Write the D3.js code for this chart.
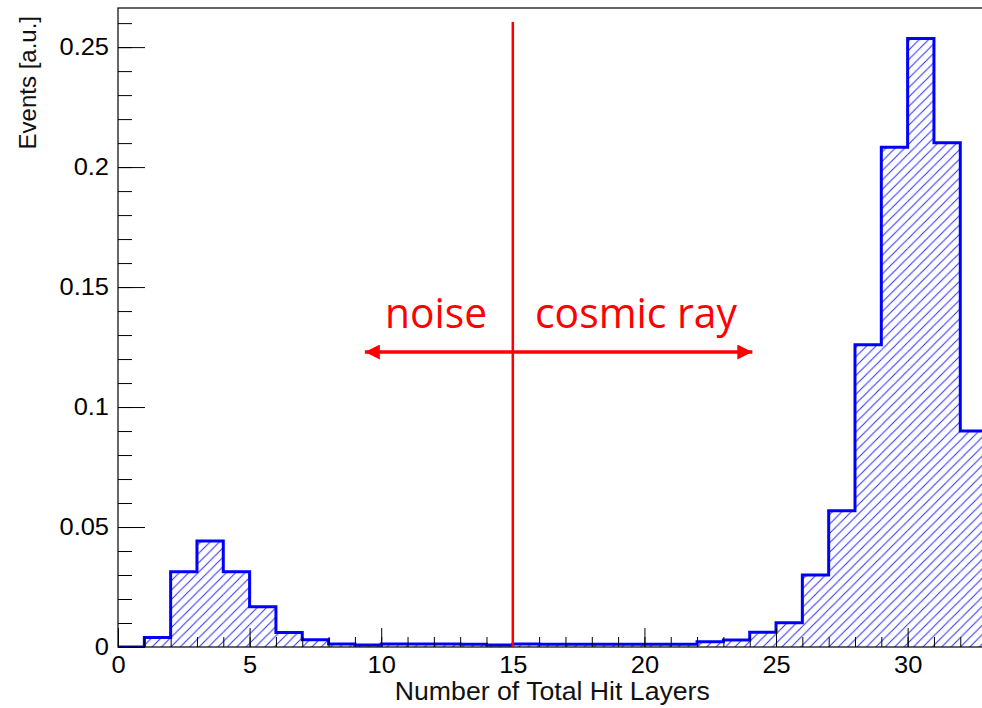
<!DOCTYPE html>
<html>
<head>
<meta charset="utf-8">
<script src="https://cdn.jsdelivr.net/npm/d3@7"></script>
<style>
  html, body { margin: 0; padding: 0; background: #fff; }
  svg { display: block; }
</style>
</head>
<body>
<svg id="chart"></svg>
<script>
// histogram bins: lower edges and contents
const binEdges = [0, 1, 2, 3, 4, 5, 6, 7, 8, 9, 10, 11, 12, 13, 14, 15, 16,
  17, 18, 19, 20, 21, 22, 23, 24, 25, 26, 27, 28, 29, 30, 31, 32, 33];
const binValues = [0, 0.004, 0.0314, 0.0442, 0.0314, 0.0168, 0.006, 0.003,
  0.0013, 0.0008, 0.0012, 0.0012, 0.0012, 0.0011, 0.0008, 0.0012, 0.0011,
  0.0011, 0.0011, 0.0011, 0.0011, 0.0011, 0.0022, 0.0029, 0.0061, 0.0101,
  0.030, 0.0568, 0.126, 0.2083, 0.2536, 0.2101, 0.09];
const xTicks = [0, 5, 10, 15, 20, 25, 30];
const yTicks = [0, 0.05, 0.1, 0.15, 0.2, 0.25];
const cutValue = 15;          // red separating line
const arrowRange = [9.38, 24.1];
const regionLabels = ["noise", "cosmic ray"];

const width = 982;
const height = 708;
const margin = {left: 118, top: 8, bottom: 61};
const plotRight = 986.6;
const stretch = 1.06; // the reference text is a bit wider than plain Helvetica

const svg = d3.select('#chart')
    .attr('width', width)
    .attr('height', height);

const x = d3.scaleLinear().domain([0, 33]).range([margin.left, plotRight]);
const y = d3.scaleLinear().domain([0, 0.2663]).range([height - margin.bottom, margin.top]);

// hatch pattern
const defs = svg.append('defs');
const hw = 9.4;
const pat = defs.append('pattern')
    .attr('id', 'hatch')
    .attr('patternUnits', 'userSpaceOnUse')
    .attr('width', hw)
    .attr('height', hw);
pat.append('path')
    .attr('d', `M0,${hw} L${hw},0 M${-hw / 2},${hw / 2} L${hw / 2},${-hw / 2} M${hw / 2},${hw * 1.5} L${hw * 1.5},${hw / 2}`)
    .attr('stroke', '#2f2fff')
    .attr('stroke-width', 1);

defs.append('clipPath').attr('id', 'plotclip')
    .append('rect')
    .attr('x', margin.left).attr('y', margin.top)
    .attr('width', plotRight - margin.left)
    .attr('height', y(0) - margin.top);

// hatched fill + step outline
const bins = binValues.map((v, i) => ({x0: binEdges[i], x1: binEdges[i + 1], v: v}));

const area = svg.append('g').attr('clip-path', 'url(#plotclip)');
area.selectAll('rect.bin').data(bins).enter()
    .append('rect')
    .attr('class', 'bin')
    .attr('x', d => x(d.x0))
    .attr('width', d => x(d.x1) - x(d.x0))
    .attr('y', d => y(d.v))
    .attr('height', d => y(0) - y(d.v))
    .attr('fill', 'url(#hatch)');

let stepPath = `M${x(bins[0].x0)},${y(0)}`;
bins.forEach(d => {
    stepPath += ` V${y(d.v)} H${x(d.x1)}`;
});
stepPath += ` V${y(0)}`;

// axis ticks (inside the frame, ROOT style)
const yMinor = d3.range(0, 0.2663, 0.01);
svg.append('g')
    .attr('transform', `translate(${margin.left},0)`)
    .call(d3.axisLeft(y).tickValues(yMinor).tickSize(-14).tickFormat(''))
    .call(g => g.select('.domain').remove());
const yAxis = svg.append('g')
    .attr('transform', `translate(${margin.left},0)`)
    .call(d3.axisLeft(y).tickValues(yTicks).tickSize(-27).tickPadding(9)
        .tickFormat(d => d === 0 ? '0' : d3.format('')(+d.toFixed(2))))
    .call(g => g.select('.domain').remove());

const xMinor = d3.range(0, 34, 1);
svg.append('g')
    .attr('transform', `translate(0,${y(0)})`)
    .call(d3.axisBottom(x).tickValues(xMinor).tickSize(-10).tickFormat(''))
    .call(g => g.select('.domain').remove());
const xAxis = svg.append('g')
    .attr('transform', `translate(0,${y(0)})`)
    .call(d3.axisBottom(x).tickValues(xTicks).tickSize(-19).tickPadding(9))
    .call(g => g.select('.domain').remove());

svg.selectAll('.tick line').attr('stroke', '#000').attr('stroke-width', 1);
[xAxis, yAxis].forEach(ax => {
    ax.selectAll('text')
        .attr('font-family', 'Liberation Sans, Arial, sans-serif')
        .attr('font-size', 24)
        .attr('fill', '#000')
        .each(function() {
            const len = this.getComputedTextLength();
            d3.select(this).attr('textLength', len * stretch).attr('lengthAdjust', 'spacingAndGlyphs');
        });
});

area.append('path')
    .attr('d', stepPath)
    .attr('fill', 'none')
    .attr('stroke', '#0000ff')
    .attr('stroke-width', 3)
    .attr('stroke-linejoin', 'miter');

// frame
svg.append('rect')
    .attr('x', margin.left).attr('y', margin.top)
    .attr('width', plotRight - margin.left)
    .attr('height', y(0) - margin.top)
    .attr('fill', 'none')
    .attr('stroke', '#000')
    .attr('stroke-width', 1.2);

// axis titles
svg.append('text')
    .attr('x', (margin.left + plotRight) / 2)
    .attr('y', 700)
    .attr('text-anchor', 'middle')
    .attr('font-family', 'Liberation Sans, Arial, sans-serif')
    .attr('font-size', 25)
    .attr('fill', '#111')
    .attr('textLength', 315)
    .attr('lengthAdjust', 'spacingAndGlyphs')
    .text('Number of Total Hit Layers');

svg.append('text')
    .attr('transform', 'translate(36,16) rotate(-90)')
    .attr('text-anchor', 'end')
    .attr('font-family', 'Liberation Sans, Arial, sans-serif')
    .attr('font-size', 24)
    .attr('fill', '#111')
    .text('Events [a.u.]');

// red annotation
const red = '#ff0000';
svg.append('line')
    .attr('x1', x(cutValue)).attr('x2', x(cutValue))
    .attr('y1', 22).attr('y2', y(0))
    .attr('stroke', red)
    .attr('stroke-width', 2.5);

const arrowY = 352;
defs.append('marker')
    .attr('id', 'ahead')
    .attr('viewBox', '0 0 10 10')
    .attr('refX', 10).attr('refY', 5)
    .attr('markerUnits', 'userSpaceOnUse')
    .attr('markerWidth', 17).attr('markerHeight', 15)
    .attr('orient', 'auto-start-reverse')
    .append('path')
    .attr('d', 'M0,0 L10,5 L0,10 Z')
    .attr('fill', red);

svg.append('line')
    .attr('x1', x(arrowRange[0])).attr('x2', x(arrowRange[1]))
    .attr('y1', arrowY).attr('y2', arrowY)
    .attr('stroke', red)
    .attr('stroke-width', 3.5)
    .attr('marker-start', 'url(#ahead)')
    .attr('marker-end', 'url(#ahead)');

const labelPos = [{cx: 436, len: 102}, {cx: 636, len: 202}];
svg.selectAll('text.region').data(regionLabels).enter()
    .append('text')
    .attr('class', 'region')
    .attr('x', (d, i) => labelPos[i].cx)
    .attr('y', 328)
    .attr('text-anchor', 'middle')
    .attr('font-family', 'Open Sans, sans-serif')
    .attr('font-size', 42)
    .attr('fill', red)
    .attr('textLength', (d, i) => labelPos[i].len)
    .attr('lengthAdjust', 'spacingAndGlyphs')
    .text(d => d);
</script>
</body>
</html>
